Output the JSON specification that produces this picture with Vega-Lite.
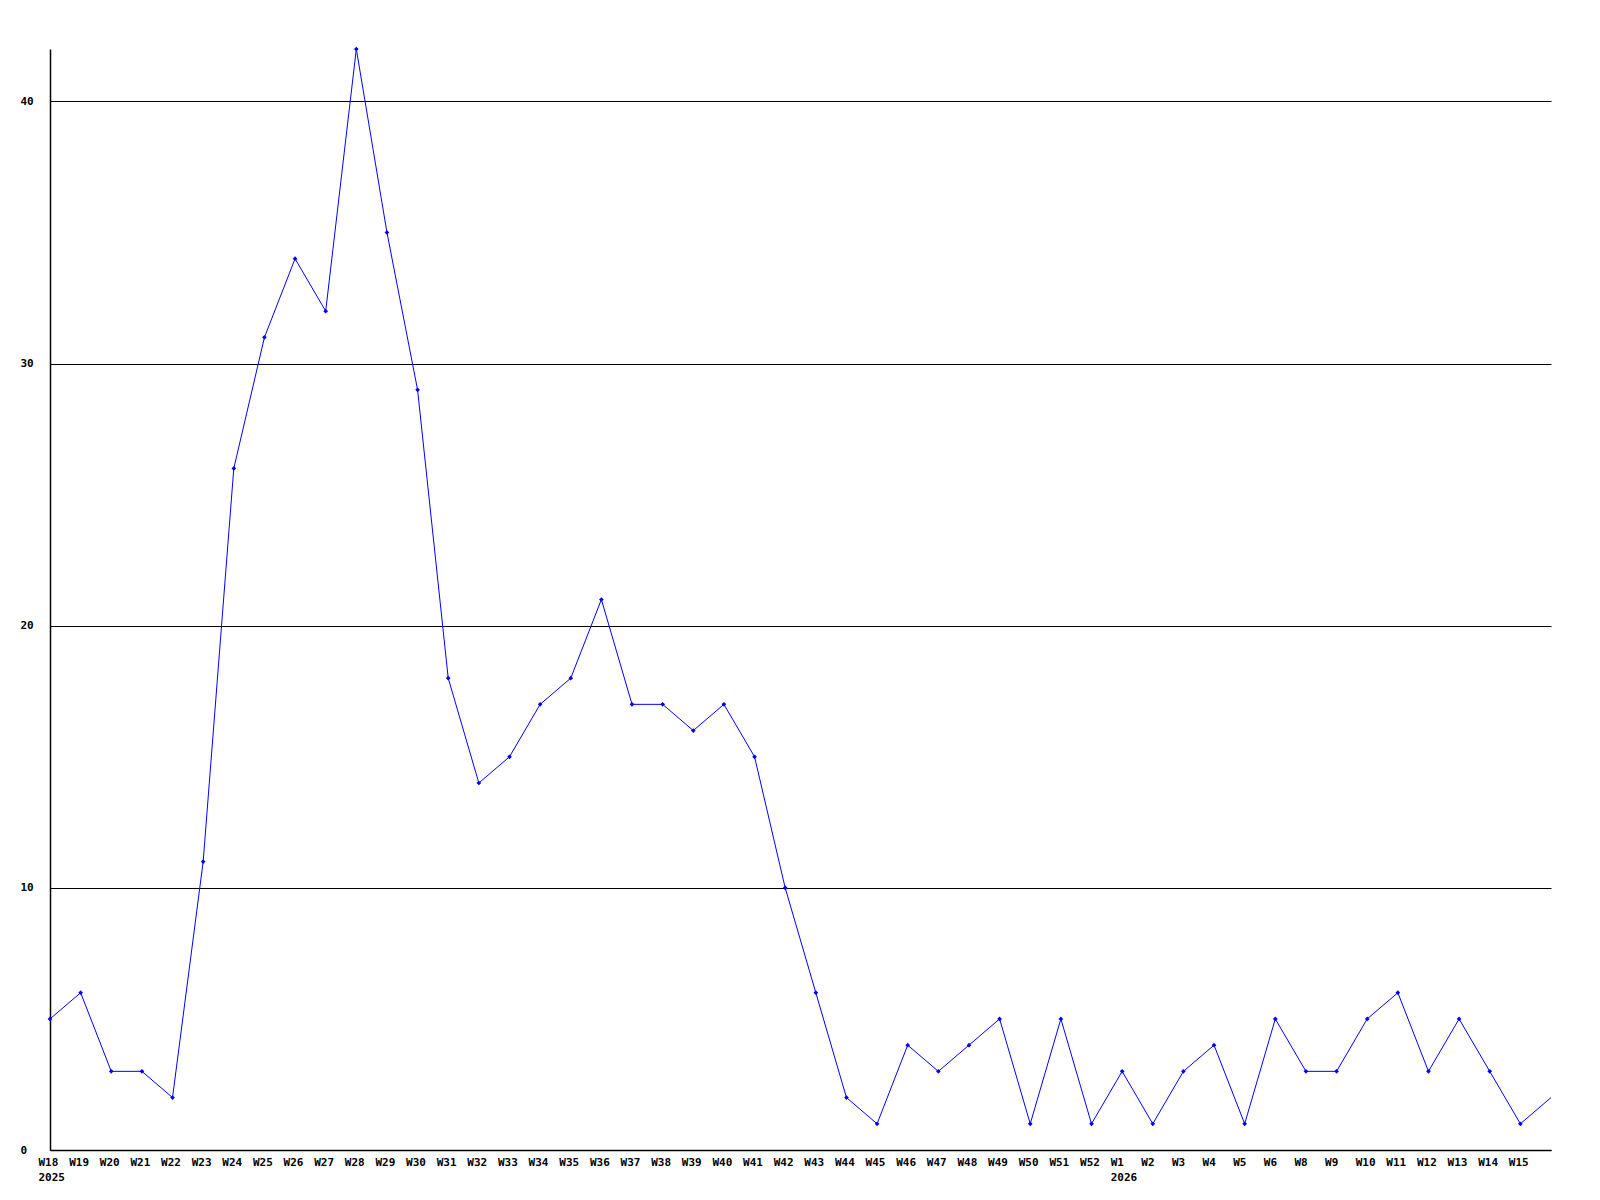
{
  "$schema": "https://vega.github.io/schema/vega-lite/v6.json",
  "autosize": {"type": "none"},
  "padding": {"left": 50, "top": 49, "right": 49, "bottom": 50},
  "width": 1501,
  "height": 1101,
  "background": "white",
  "config": {"view": {"stroke": null}},
  "data": {"values": [
    {"week": "W18", "v": 5}, {"week": "W19", "v": 6}, {"week": "W20", "v": 3}, {"week": "W21", "v": 3},
    {"week": "W22", "v": 2}, {"week": "W23", "v": 11}, {"week": "W24", "v": 26}, {"week": "W25", "v": 31},
    {"week": "W26", "v": 34}, {"week": "W27", "v": 32}, {"week": "W28", "v": 42}, {"week": "W29", "v": 35},
    {"week": "W30", "v": 29}, {"week": "W31", "v": 18}, {"week": "W32", "v": 14}, {"week": "W33", "v": 15},
    {"week": "W34", "v": 17}, {"week": "W35", "v": 18}, {"week": "W36", "v": 21}, {"week": "W37", "v": 17},
    {"week": "W38", "v": 17}, {"week": "W39", "v": 16}, {"week": "W40", "v": 17}, {"week": "W41", "v": 15},
    {"week": "W42", "v": 10}, {"week": "W43", "v": 6}, {"week": "W44", "v": 2}, {"week": "W45", "v": 1},
    {"week": "W46", "v": 4}, {"week": "W47", "v": 3}, {"week": "W48", "v": 4}, {"week": "W49", "v": 5},
    {"week": "W50", "v": 1}, {"week": "W51", "v": 5}, {"week": "W52", "v": 1}, {"week": "W1", "v": 3},
    {"week": "W2", "v": 1}, {"week": "W3", "v": 3}, {"week": "W4", "v": 4}, {"week": "W5", "v": 1},
    {"week": "W6", "v": 5}, {"week": "W8", "v": 3}, {"week": "W9", "v": 3}, {"week": "W10", "v": 5},
    {"week": "W11", "v": 6}, {"week": "W12", "v": 3}, {"week": "W13", "v": 5}, {"week": "W14", "v": 3},
    {"week": "W15", "v": 1}, {"week": "W16", "v": 2}
  ]},
  "encoding": {
    "x": {
      "field": "week", "type": "nominal", "sort": null,
      "scale": {"type": "point", "padding": 0},
      "axis": {
        "title": null, "domainColor": "black", "domainWidth": 1.5, "ticks": false, "grid": false,
        "labelAngle": 0, "labelAlign": "left", "labelOffset": -12, "labelBaseline": "top",
        "labelPadding": 6, "labelLineHeight": 15,
        "labelFont": "DejaVu Sans Mono", "labelFontWeight": "bold", "labelFontSize": 11, "labelColor": "black",
        "labelOverlap": false, "labelFlush": false, "labelBound": false,
        "labelExpr": "datum.value == 'W18' ? ['W18', '2025'] : datum.value == 'W1' ? ['W1', '2026'] : datum.value == 'W16' ? '' : datum.value"
      }
    },
    "y": {
      "field": "v", "type": "quantitative",
      "scale": {"domain": [0, 42], "nice": false, "zero": true},
      "axis": {
        "title": null, "values": [0, 10, 20, 30, 40], "domainColor": "black", "domainWidth": 1.5,
        "ticks": false, "grid": true, "gridColor": "black", "gridWidth": 1, "gridOpacity": 1,
        "labelAlign": "left", "labelPadding": 30,
        "labelFont": "DejaVu Sans Mono", "labelFontWeight": "bold", "labelFontSize": 11, "labelColor": "black",
        "labelFlush": false
      }
    }
  },
  "layer": [
    {"mark": {"type": "line", "color": "#0000ff", "strokeWidth": 1, "clip": true}},
    {
      "transform": [{"filter": "datum.week != 'W16'"}],
      "mark": {"type": "point", "shape": "diamond", "filled": true, "color": "#0000ff", "size": 22, "opacity": 1}
    }
  ]
}
